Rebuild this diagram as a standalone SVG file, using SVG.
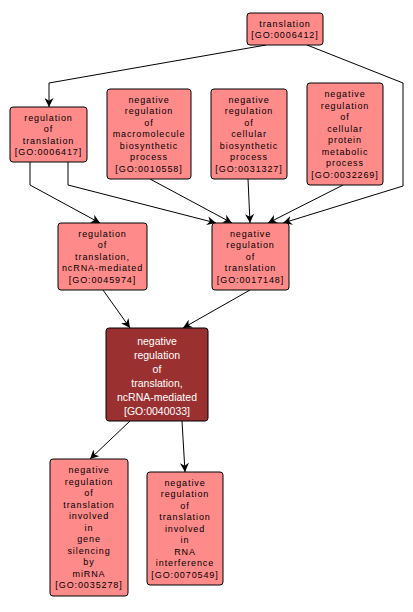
<svg xmlns="http://www.w3.org/2000/svg" width="413" height="612" viewBox="0 0 413 612">
<style>
.n rect{fill:#FF8A8A;stroke:#000;stroke-width:1}
.n text{font-family:"Liberation Sans",Arial,sans-serif;font-size:9px;letter-spacing:0.9px;text-anchor:middle;fill:#000}
.c rect{fill:#9B3030;stroke:#000;stroke-width:1}
.c text{font-family:"Liberation Sans",Arial,sans-serif;font-size:10.5px;text-anchor:middle;fill:#fff}
.e path{fill:none;stroke:#000;stroke-width:1;marker-end:url(#a)}
</style>
<defs>
<marker id="a" viewBox="0 0 10 10" refX="10" refY="5" markerWidth="9" markerHeight="9" markerUnits="userSpaceOnUse" orient="auto">
<path d="M0,0 L10,5 L0,10 L3,5 z" fill="#000"/>
</marker>
</defs>
<rect width="413" height="612" fill="#fff"/>
<g id="edges" class="e">
<path d="M266,45 L49,83 L49,107"/>
<path d="M307,45 L403,83 L403,186 L283,223"/>
<path d="M30,162 L30,185 L100,223"/>
<path d="M68,162 L68,185 L216,223"/>
<path d="M150,179 L232,223"/>
<path d="M248,179 L250,223"/>
<path d="M343,185 L268,223"/>
<path d="M103,290 L130,328"/>
<path d="M250,290 L183,328"/>
<path d="M130,421 L90,459"/>
<path d="M182,421 L185,472"/>
</g>
<g id="GO0006412" class="n">
<rect x="247" y="13" width="76" height="32" rx="3"/>
<text x="285" y="26.5">translation</text>
<text x="285" y="38">[GO:0006412]</text>
</g>
<g id="GO0006417" class="n">
<rect x="10" y="107" width="77" height="55" rx="3"/>
<text x="48.5" y="120.5">regulation</text>
<text x="48.5" y="132">of</text>
<text x="48.5" y="143.5">translation</text>
<text x="48.5" y="155">[GO:0006417]</text>
</g>
<g id="GO0010558" class="n">
<rect x="107" y="89" width="84" height="90" rx="3"/>
<text x="149" y="102.7">negative</text>
<text x="149" y="114.2">regulation</text>
<text x="149" y="125.7">of</text>
<text x="149" y="137.2">macromolecule</text>
<text x="149" y="148.7">biosynthetic</text>
<text x="149" y="160.2">process</text>
<text x="149" y="171.7">[GO:0010558]</text>
</g>
<g id="GO0031327" class="n">
<rect x="211" y="89" width="76" height="90" rx="3"/>
<text x="249" y="102.7">negative</text>
<text x="249" y="114.2">regulation</text>
<text x="249" y="125.7">of</text>
<text x="249" y="137.2">cellular</text>
<text x="249" y="148.7">biosynthetic</text>
<text x="249" y="160.2">process</text>
<text x="249" y="171.7">[GO:0031327]</text>
</g>
<g id="GO0032269" class="n">
<rect x="307" y="83" width="76" height="102" rx="3"/>
<text x="345" y="97">negative</text>
<text x="345" y="108.5">regulation</text>
<text x="345" y="120">of</text>
<text x="345" y="131.5">cellular</text>
<text x="345" y="143">protein</text>
<text x="345" y="154.5">metabolic</text>
<text x="345" y="166">process</text>
<text x="345" y="177.5">[GO:0032269]</text>
</g>
<g id="GO0045974" class="n">
<rect x="58" y="223" width="89" height="67" rx="3"/>
<text x="102.5" y="236.7">regulation</text>
<text x="102.5" y="248.2">of</text>
<text x="102.5" y="259.7">translation,</text>
<text x="102.5" y="271.2">ncRNA-mediated</text>
<text x="102.5" y="282.7">[GO:0045974]</text>
</g>
<g id="GO0017148" class="n">
<rect x="212" y="223" width="77" height="67" rx="3"/>
<text x="250.5" y="236.7">negative</text>
<text x="250.5" y="248.2">regulation</text>
<text x="250.5" y="259.7">of</text>
<text x="250.5" y="271.2">translation</text>
<text x="250.5" y="282.7">[GO:0017148]</text>
</g>
<g id="GO0040033" class="c">
<rect x="106" y="328" width="102" height="93" rx="3"/>
<text x="157" y="345">negative</text>
<text x="157" y="359">regulation</text>
<text x="157" y="373">of</text>
<text x="157" y="387">translation,</text>
<text x="157" y="401">ncRNA-mediated</text>
<text x="157" y="415">[GO:0040033]</text>
</g>
<g id="GO0035278" class="n">
<rect x="50" y="459" width="78" height="137" rx="3"/>
<text x="89" y="473.2">negative</text>
<text x="89" y="484.7">regulation</text>
<text x="89" y="496.2">of</text>
<text x="89" y="507.7">translation</text>
<text x="89" y="519.2">involved</text>
<text x="89" y="530.7">in</text>
<text x="89" y="542.2">gene</text>
<text x="89" y="553.7">silencing</text>
<text x="89" y="565.2">by</text>
<text x="89" y="576.7">miRNA</text>
<text x="89" y="588.2">[GO:0035278]</text>
</g>
<g id="GO0070549" class="n">
<rect x="147" y="472" width="76" height="113" rx="3"/>
<text x="185" y="485.7">negative</text>
<text x="185" y="497.2">regulation</text>
<text x="185" y="508.7">of</text>
<text x="185" y="520.2">translation</text>
<text x="185" y="531.7">involved</text>
<text x="185" y="543.2">in</text>
<text x="185" y="554.7">RNA</text>
<text x="185" y="566.2">interference</text>
<text x="185" y="577.7">[GO:0070549]</text>
</g>
</svg>
